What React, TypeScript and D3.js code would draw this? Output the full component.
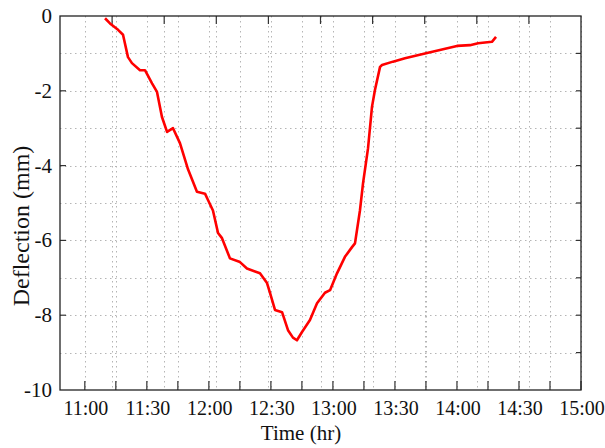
import React, { useEffect, useRef } from "react";
import * as d3 from "d3";

// time of day in decimal hours, deflection in mm
const timeHr = [
  11.163, 11.203, 11.268, 11.308, 11.348, 11.38, 11.445, 11.485, 11.542, 11.582,
  11.622, 11.663, 11.711, 11.767, 11.832, 11.904, 11.969, 11.993, 12.033, 12.074,
  12.106, 12.17, 12.251, 12.307, 12.412, 12.469, 12.493, 12.533, 12.59, 12.638,
  12.678, 12.71, 12.751, 12.815, 12.872, 12.936, 12.977, 13.033, 13.097, 13.154,
  13.178, 13.218, 13.243, 13.283, 13.315, 13.339, 13.38, 13.396, 13.484, 13.581,
  13.742, 13.888, 14.0, 14.105, 14.17, 14.282, 14.315,
];
const deflection = [
  -0.06, -0.2, -0.37, -0.5, -1.1, -1.26, -1.45, -1.45, -1.8, -2.03,
  -2.7, -3.1, -3.0, -3.4, -4.1, -4.7, -4.75, -4.92, -5.2, -5.8,
  -5.94, -6.48, -6.58, -6.75, -6.88, -7.14, -7.4, -7.86, -7.92, -8.4,
  -8.6, -8.67, -8.45, -8.13, -7.68, -7.4, -7.33, -6.88, -6.44, -6.18,
  -6.08, -5.2, -4.47, -3.54, -2.43, -1.98, -1.36, -1.31, -1.22, -1.13,
  -1.0, -0.89, -0.8, -0.78, -0.73, -0.69, -0.56,
];

const xTicks = [11, 11.25, 11.5, 11.75, 12, 12.25, 12.5, 12.75, 13, 13.25, 13.5, 13.75, 14, 14.25, 14.5, 14.75, 15];
const xLabels = [11, 11.5, 12, 12.5, 13, 13.5, 14, 14.5, 15];
const yTicks = [0, -1, -2, -3, -4, -5, -6, -7, -8, -9, -10];
const yLabels = [0, -2, -4, -6, -8, -10];

const width = 605;
const height = 448;
const margin = { top: 16, right: 24, bottom: 58, left: 60 };
const font = "'Liberation Serif', 'Times New Roman', serif";

const fmtTime = (h: number) => {
  const hh = Math.floor(h + 1e-6);
  const mm = Math.round((h - hh) * 60);
  return `${hh}:${mm < 10 ? "0" + mm : mm}`;
};

const App = () => {
  const svgRef = useRef<SVGSVGElement>(null);

  useEffect(() => {
    const svg = d3.select(svgRef.current);
    svg.selectAll("*").remove();

    const x0 = margin.left;
    const x1 = width - margin.right;
    const y0 = margin.top;
    const y1 = height - margin.bottom;

    const x = d3.scaleLinear().domain([10.8, 15]).range([x0, x1]);
    const y = d3.scaleLinear().domain([-10, 0]).range([y1, y0]);
    // top axis of the original figure splits the width into ten parts
    const xTop = d3.scaleLinear().domain([0, 10]).range([x0, x1]);

    const grid = svg.append("g")
      .attr("stroke", "#b5b5b5")
      .attr("stroke-width", 1)
      .attr("stroke-dasharray", "1.5,3.5");

    const vLines = Array.from(new Set([
      ...xTicks.map((d) => Math.round(x(d))),
      ...d3.range(1, 10).map((d) => Math.round(xTop(d))),
    ]));
    grid.selectAll("line.v")
      .data(vLines)
      .enter()
      .append("line")
      .attr("x1", (d) => d + 0.5)
      .attr("x2", (d) => d + 0.5)
      .attr("y1", y0)
      .attr("y2", y1);

    grid.selectAll("line.h")
      .data(yTicks.slice(1, -1))
      .enter()
      .append("line")
      .attr("x1", x0)
      .attr("x2", x1)
      .attr("y1", (d) => Math.round(y(d)) + 0.5)
      .attr("y2", (d) => Math.round(y(d)) + 0.5);

    // ticks (all inward)
    const ticks = svg.append("g").attr("stroke", "#333").attr("stroke-width", 1.2);
    ticks.selectAll("line.b")
      .data(xTicks)
      .enter()
      .append("line")
      .attr("x1", (d) => x(d))
      .attr("x2", (d) => x(d))
      .attr("y1", y1)
      .attr("y2", y1 - 9);
    ticks.selectAll("line.t")
      .data(d3.range(1, 10))
      .enter()
      .append("line")
      .attr("x1", (d) => xTop(d))
      .attr("x2", (d) => xTop(d))
      .attr("y1", y0)
      .attr("y2", y0 + 8);
    ticks.selectAll("line.l")
      .data(yLabels.slice(1, -1))
      .enter()
      .append("line")
      .attr("x1", x0)
      .attr("x2", x0 + 6)
      .attr("y1", (d) => y(d))
      .attr("y2", (d) => y(d));
    ticks.selectAll("line.r")
      .data(yTicks.slice(1, -1))
      .enter()
      .append("line")
      .attr("x1", x1)
      .attr("x2", x1 - 5)
      .attr("y1", (d) => y(d))
      .attr("y2", (d) => y(d));

    // frame
    svg.append("rect")
      .attr("x", x0)
      .attr("y", y0)
      .attr("width", x1 - x0)
      .attr("height", y1 - y0)
      .attr("fill", "none")
      .attr("stroke", "#222")
      .attr("stroke-width", 1.3);

    // line
    const line = d3.line<number>()
      .x((d, i) => x(timeHr[i]))
      .y((d) => y(d));
    svg.append("path")
      .datum(deflection)
      .attr("fill", "none")
      .attr("stroke", "#ff0000")
      .attr("stroke-width", 2.6)
      .attr("stroke-linejoin", "round")
      .attr("d", line);

    // tick labels
    svg.append("g")
      .selectAll("text")
      .data(xLabels)
      .enter()
      .append("text")
      .attr("x", (d) => x(d) + 1)
      .attr("y", y1 + 25)
      .attr("text-anchor", "middle")
      .style("font-family", font)
      .style("font-size", "20px")
      .style("fill", "#111")
      .text((d) => fmtTime(d));

    svg.append("g")
      .selectAll("text")
      .data(yLabels)
      .enter()
      .append("text")
      .attr("x", x0 - 8)
      .attr("y", (d) => y(d) + 7)
      .attr("text-anchor", "end")
      .style("font-family", font)
      .style("font-size", "21px")
      .style("fill", "#111")
      .text((d) => String(d));

    // axis titles
    svg.append("text")
      .attr("x", 301)
      .attr("y", 440)
      .attr("text-anchor", "middle")
      .style("font-family", font)
      .style("font-size", "21px")
      .style("fill", "#111")
      .text("Time (hr)");

    svg.append("text")
      .attr("transform", "translate(29,226) rotate(-90)")
      .attr("text-anchor", "middle")
      .style("font-family", font)
      .style("font-size", "24px")
      .style("fill", "#111")
      .text("Deflection (mm)");
  }, []);

  return (
    <svg
      ref={svgRef}
      width={width}
      height={height}
      style={{ position: "absolute", left: 0, top: 0, background: "#fff" }}
    ></svg>
  );
};

export default App;
